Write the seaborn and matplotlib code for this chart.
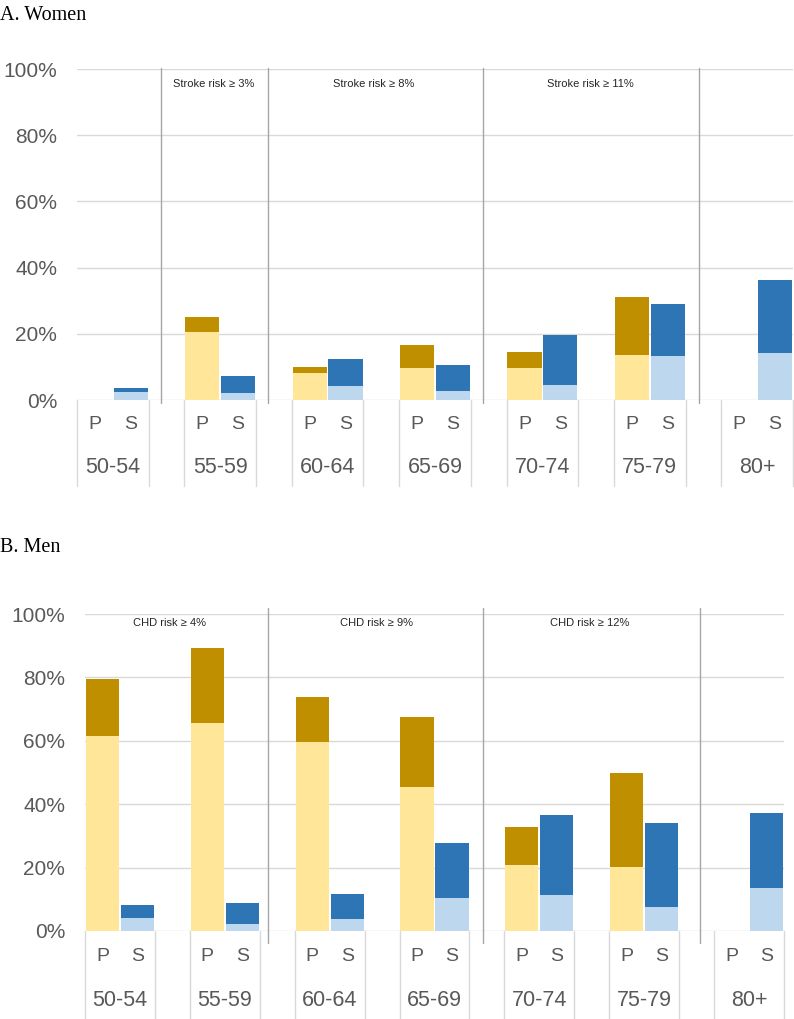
import matplotlib
matplotlib.use("Agg")
import matplotlib.pyplot as plt
import seaborn as sns
import pandas as pd

# ---------------- data ----------------
ages = ["50-54", "55-59", "60-64", "65-69", "70-74", "75-79", "80+"]
bar_labels = ["P", "S"]

women_p_light = [0, 20.5, 8.3, 9.8, 9.6, 13.5, 0]
women_p_total = [0, 25.2, 10.1, 16.5, 14.5, 31.1, 0]
women_s_light = [2.5, 2.2, 4.3, 2.7, 4.5, 13.4, 14.2]
women_s_total = [3.7, 7.2, 12.5, 10.7, 19.5, 29.1, 36.2]

men_p_light = [61.5, 65.5, 59.7, 45.4, 20.8, 20.2, 0]
men_p_total = [79.4, 89.4, 73.8, 67.5, 32.9, 49.9, 0]
men_s_light = [4.2, 2.3, 3.7, 10.5, 11.3, 7.6, 13.5]
men_s_total = [8.1, 8.9, 11.8, 27.7, 36.5, 34.0, 37.3]

women_notes = ["Stroke risk ≥ 3%", "Stroke risk ≥ 8%", "Stroke risk ≥ 11%"]
men_notes = ["CHD risk ≥ 4%", "CHD risk ≥ 9%", "CHD risk ≥ 12%"]

y_ticks = [0, 20, 40, 60, 80, 100]

# colours
C_P_DARK = "#BF8F00"
C_P_LIGHT = "#FFE699"
C_S_DARK = "#2E75B6"
C_S_LIGHT = "#BDD7EE"
GRID = "#D9D9D9"
SEP = "#A6A6A6"
TXT = "#595959"

sns.set_style("white")
plt.rcParams["font.family"] = ["Liberation Sans", "DejaVu Sans"]

W, H = 794, 1019
fig = plt.figure(figsize=(W / 100, H / 100), dpi=100)


def slot_order():
    order = []
    for i, a in enumerate(ages):
        order += [a + " P", a + " S"]
        if i < len(ages) - 1:
            order.append(" " * (i + 1))
    return order


def build_frames(p_light, p_total, s_light, s_total):
    rows_dark, rows_light = [], []
    for i, a in enumerate(ages):
        rows_dark.append({"slot": a + " P", "value": p_total[i], "kind": "P"})
        rows_dark.append({"slot": a + " S", "value": s_total[i], "kind": "S"})
        rows_light.append({"slot": a + " P", "value": p_light[i], "kind": "P"})
        rows_light.append({"slot": a + " S", "value": s_light[i], "kind": "S"})
    return pd.DataFrame(rows_dark), pd.DataFrame(rows_light)


def draw_panel(rect, data, seps, sep_y, cell_bottom, lab_y, age_y):
    ax = fig.add_axes(rect)
    order = slot_order()
    dark, light = build_frames(*data)
    sns.barplot(data=dark, x="slot", y="value", hue="kind", order=order,
                palette={"P": C_P_DARK, "S": C_S_DARK}, dodge=False,
                width=0.95, legend=False, ax=ax, linewidth=0, saturation=1)
    sns.barplot(data=light, x="slot", y="value", hue="kind", order=order,
                palette={"P": C_P_LIGHT, "S": C_S_LIGHT}, dodge=False,
                width=0.95, legend=False, ax=ax, linewidth=0, saturation=1)
    ax.set_xlim(-0.5, len(order) - 0.5)
    ax.set_ylim(0, 100)
    ax.set_yticks(y_ticks)
    ax.set_yticklabels([f"{t}%" for t in y_ticks], color=TXT, fontsize=15)
    ax.tick_params(axis="y", length=0, pad=14.4)
    ax.set_xticks([])
    ax.set_xlabel("")
    ax.set_ylabel("")
    for s in ax.spines.values():
        s.set_visible(False)
    ax.yaxis.grid(True, color=GRID, linewidth=1)
    ax.set_axisbelow(True)

    tr = ax.get_xaxis_transform()
    # category cells
    for g, a in enumerate(ages):
        for xe in (3 * g - 0.5, 3 * g + 1.5):
            ax.plot([xe, xe], [0, cell_bottom], transform=tr, color=GRID,
                    linewidth=1, clip_on=False)
        ax.text(3 * g, lab_y, bar_labels[0], transform=tr, ha="center",
                va="center", fontsize=14, color=TXT)
        ax.text(3 * g + 1, lab_y, bar_labels[1], transform=tr, ha="center",
                va="center", fontsize=14, color=TXT)
        ax.text(3 * g + 0.5, age_y, a, transform=tr, ha="center",
                va="center", fontsize=15.5, color=TXT)
    # risk separators
    for xs in seps:
        ax.plot([xs, xs], sep_y, transform=tr, color=SEP, linewidth=1,
                clip_on=False)
    return ax


def px_rect(left, right, top, bottom):
    return [left / W, 1 - bottom / H, (right - left) / W, (bottom - top) / H]


women = (women_p_light, women_p_total, women_s_light, women_s_total)
men = (men_p_light, men_p_total, men_s_light, men_s_total)

draw_panel(px_rect(77, 793, 69, 400), women,
           seps=[1.846, 4.835, 10.84, 16.87], sep_y=[1.003, -0.009],
           cell_bottom=-0.26, lab_y=-0.0755, age_y=-0.205)
draw_panel(px_rect(85, 784, 614, 931), men,
           seps=[4.736, 10.888, 17.1], sep_y=[1.019, -0.038],
           cell_bottom=-0.28, lab_y=-0.079, age_y=-0.218)

# titles
fig.text(0 / W, 1 - 15 / H, "A. Women", family="Liberation Serif",
         fontsize=14.5, va="center", ha="left", color="black")
fig.text(0 / W, 1 - 548 / H, "B. Men", family="Liberation Serif",
         fontsize=14.5, va="center", ha="left", color="black")

# risk notes
for xc, t in zip([213.5, 374, 590], women_notes):
    fig.text(xc / W, 1 - 84 / H, t, ha="center", va="center", fontsize=8,
             color="#262626")
for xc, t in zip([169.5, 376.5, 590], men_notes):
    fig.text(xc / W, 1 - 623 / H, t, ha="center", va="center", fontsize=8,
             color="#262626")

fig.savefig("out.png", dpi=100, facecolor="white")
